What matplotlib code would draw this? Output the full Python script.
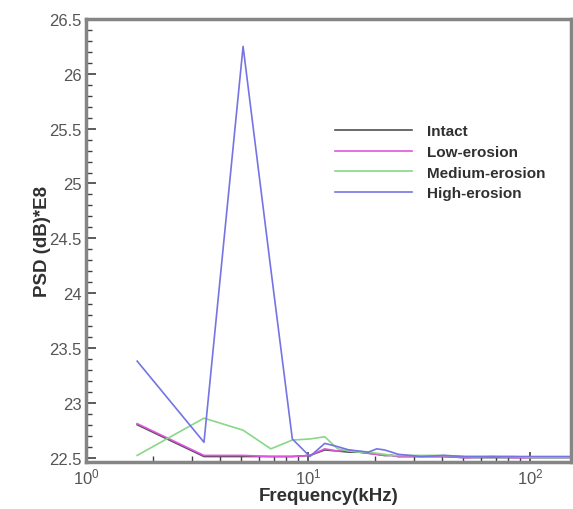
import numpy as np
import matplotlib
matplotlib.use('Agg')
import matplotlib.pyplot as plt
from matplotlib.ticker import LogLocator, MultipleLocator, NullFormatter

plt.rcParams['font.family'] = ['Liberation Sans', 'DejaVu Sans']

# frequency bins (kHz)
freq = [1.7, 3.4, 5.1, 6.8, 8.5, 10.2, 11.9, 13.6, 15.3, 17.0, 18.7, 20.4,
        22.1, 23.8, 25.5, 28.9, 32.3, 40.8, 51.0, 68.0, 85.0, 102.0, 127.5, 153.0]

intact = [22.80, 22.51, 22.51, 22.51, 22.51, 22.52, 22.57, 22.56, 22.55, 22.55, 22.54, 22.53,
          22.52, 22.52, 22.51, 22.51, 22.51, 22.51, 22.50, 22.50, 22.50, 22.50, 22.50, 22.50]
low_erosion = [22.81, 22.52, 22.52, 22.51, 22.51, 22.52, 22.58, 22.56, 22.57, 22.55, 22.54, 22.53,
               22.52, 22.52, 22.51, 22.51, 22.51, 22.51, 22.50, 22.51, 22.50, 22.50, 22.50, 22.50]
medium_erosion = [22.52, 22.86, 22.75, 22.58, 22.66, 22.67, 22.69, 22.58, 22.56, 22.55, 22.55, 22.54,
                  22.53, 22.52, 22.52, 22.52, 22.52, 22.52, 22.51, 22.51, 22.51, 22.50, 22.50, 22.50]
high_erosion = [23.38, 22.64, 26.25, 24.22, 22.67, 22.51, 22.63, 22.60, 22.57, 22.56, 22.55, 22.58,
                22.57, 22.55, 22.53, 22.52, 22.51, 22.52, 22.51, 22.51, 22.51, 22.51, 22.51, 22.51]

labels = ['Intact', 'Low-erosion', 'Medium-erosion', 'High-erosion']
colors = ['#505050', '#e055e0', '#88d888', '#7474e4']

fig = plt.figure(figsize=(5.73, 5.10), dpi=100)
ax = fig.add_axes([86/573, 1-463/510, (571-86)/573, (463-20)/510])

for ys, lab, c in zip([intact, low_erosion, medium_erosion, high_erosion], labels, colors):
    ax.plot(freq, ys, color=c, lw=1.2, label=lab)

ax.set_xscale('log')
ax.set_xlim(1, 153)
ax.set_ylim(22.46, 26.5)

ax.yaxis.set_major_locator(MultipleLocator(0.5))
ax.yaxis.set_minor_locator(MultipleLocator(0.1))
ax.yaxis.set_major_formatter(matplotlib.ticker.FuncFormatter(lambda v, p: '%g' % v))
ax.xaxis.set_major_locator(LogLocator(base=10))
ax.xaxis.set_minor_locator(LogLocator(base=10, subs=np.arange(2, 10)))
ax.xaxis.set_minor_formatter(NullFormatter())

ax.tick_params(which='both', direction='in', top=False, right=False,
               color='#404040', labelcolor='#555555', labelsize=12, pad=3)
ax.tick_params(which='major', length=7, width=1.2)
ax.tick_params(which='minor', length=4, width=1.0)

for s in ax.spines.values():
    s.set_color('#858585')
    s.set_linewidth(2.5)

ax.set_xlabel('Frequency(kHz)', fontsize=13.5, fontweight='bold', color='#303030', labelpad=1)
ax.set_ylabel('PSD (dB)*E8', fontsize=13.5, fontweight='bold', color='#303030', labelpad=-1)

leg = ax.legend(loc='upper left', bbox_to_anchor=(0.486, 0.793), frameon=False,
                handlelength=5.0, handletextpad=1.0, labelspacing=0.43,
                prop={'weight': 'bold', 'size': 11})
for t in leg.get_texts():
    t.set_color('#303030')

fig.savefig('out.png', dpi=100)
